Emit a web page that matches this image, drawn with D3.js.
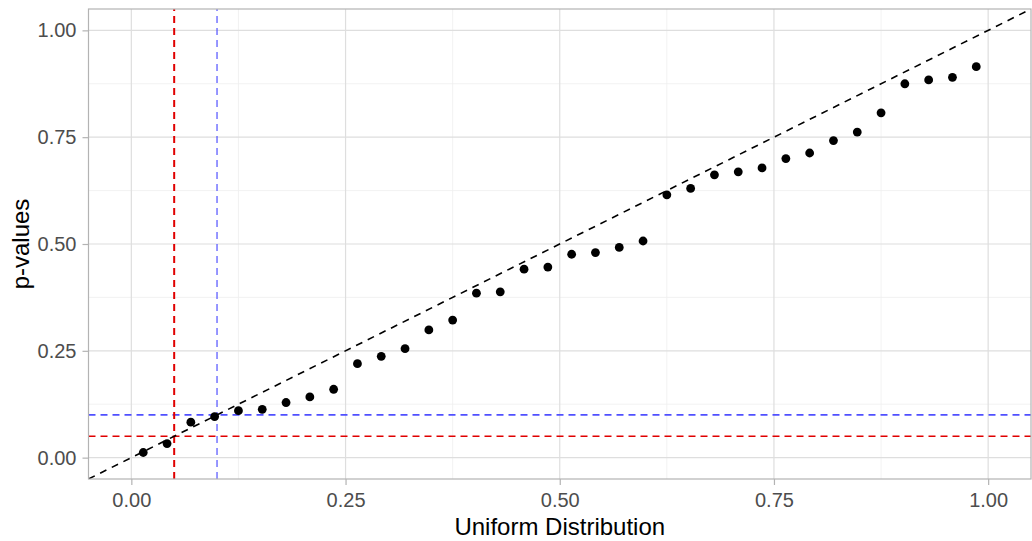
<!DOCTYPE html>
<html>
<head>
<meta charset="utf-8">
<script src="https://cdn.jsdelivr.net/npm/d3@7"></script>
<style>
  body { margin: 0; background: #fff; }
  text { font-family: "Liberation Sans", Arial, sans-serif; }
</style>
</head>
<body>
<svg id="chart" width="1032" height="541"></svg>
<script>
// sorted p-values, plotted against uniform quantiles (i - 0.5) / n
const pValues = [
    0.012, 0.033, 0.083, 0.096, 0.110, 0.113, 0.129, 0.142, 0.160,
    0.220, 0.237, 0.255, 0.299, 0.322, 0.385, 0.388, 0.441, 0.446,
    0.476, 0.480, 0.492, 0.507, 0.615, 0.630, 0.662, 0.669, 0.678,
    0.700, 0.713, 0.742, 0.762, 0.807, 0.875, 0.884, 0.890, 0.915
];
const uniformQuantiles = pValues.map((d, i) => (i + 0.5) / pValues.length);
const tickValues = [0, 0.25, 0.5, 0.75, 1];
const minorTicks = [0.125, 0.375, 0.625, 0.875];
const cutoffs = [
    { value: 0.05, color: "#e00000" },
    { value: 0.1, color: "#5050ff" }
];

const width = 1032, height = 541;
const margin = { top: 9, right: 1, bottom: 62, left: 88.5 };

const svg = d3.select("#chart");

const x = d3.scaleLinear().domain([-0.05, 1.05]).range([margin.left, width - margin.right]);
const y = d3.scaleLinear().domain([-0.05, 1.05]).range([height - margin.bottom, margin.top]);

const fmt = d3.format(".2f");

// grid
const grid = svg.append("g");
grid.selectAll(".minor-x").data(minorTicks).join("line")
    .attr("x1", d => x(d)).attr("x2", d => x(d))
    .attr("y1", y.range()[0]).attr("y2", y.range()[1])
    .attr("stroke", "#efefef").attr("stroke-width", 0.8);
grid.selectAll(".minor-y").data(minorTicks).join("line")
    .attr("y1", d => y(d)).attr("y2", d => y(d))
    .attr("x1", x.range()[0]).attr("x2", x.range()[1])
    .attr("stroke", "#efefef").attr("stroke-width", 0.8);
grid.selectAll(".major-x").data(tickValues).join("line")
    .attr("x1", d => x(d)).attr("x2", d => x(d))
    .attr("y1", y.range()[0]).attr("y2", y.range()[1])
    .attr("stroke", "#dedede").attr("stroke-width", 1.2);
grid.selectAll(".major-y").data(tickValues).join("line")
    .attr("y1", d => y(d)).attr("y2", d => y(d))
    .attr("x1", x.range()[0]).attr("x2", x.range()[1])
    .attr("stroke", "#dedede").attr("stroke-width", 1.2);

// clip for reference lines
svg.append("clipPath").attr("id", "panel-clip")
    .append("rect")
    .attr("x", x.range()[0]).attr("y", y.range()[1])
    .attr("width", x.range()[1] - x.range()[0])
    .attr("height", y.range()[0] - y.range()[1]);

const refs = svg.append("g").attr("clip-path", "url(#panel-clip)");

// horizontal cutoffs
refs.selectAll(".hline").data(cutoffs).join("line")
    .attr("x1", x.range()[0]).attr("x2", x.range()[1])
    .attr("y1", d => y(d.value)).attr("y2", d => y(d.value))
    .attr("stroke", d => d.color).attr("stroke-width", 1.6)
    .attr("stroke-dasharray", "7,5");

// vertical cutoffs
refs.selectAll(".vline").data(cutoffs).join("line")
    .attr("x1", d => x(d.value)).attr("x2", d => x(d.value))
    .attr("y1", y.range()[0]).attr("y2", y.range()[1])
    .attr("stroke", d => d.color)
    .attr("stroke-width", d => d.value === 0.05 ? 2 : 1.2)
    .attr("stroke-dasharray", "7,5");

// identity line
refs.append("line")
    .attr("x1", x(-0.05)).attr("y1", y(-0.05))
    .attr("x2", x(1.05)).attr("y2", y(1.05))
    .attr("stroke", "#000").attr("stroke-width", 1.6)
    .attr("stroke-dasharray", "7,6");

// points
svg.append("g").selectAll("circle").data(pValues).join("circle")
    .attr("cx", (d, i) => x(uniformQuantiles[i]))
    .attr("cy", d => y(d))
    .attr("r", 4.4)
    .attr("fill", "#000");

// panel border
svg.append("rect")
    .attr("x", x.range()[0]).attr("y", y.range()[1])
    .attr("width", x.range()[1] - x.range()[0])
    .attr("height", y.range()[0] - y.range()[1])
    .attr("fill", "none").attr("stroke", "#b3b3b3").attr("stroke-width", 1.2);

// axes
const xAxis = svg.append("g")
    .attr("transform", `translate(0,${y.range()[0]})`)
    .call(d3.axisBottom(x).tickValues(tickValues).tickFormat(fmt).tickSize(6).tickPadding(6));
const yAxis = svg.append("g")
    .attr("transform", `translate(${x.range()[0]},0)`)
    .call(d3.axisLeft(y).tickValues(tickValues).tickFormat(fmt).tickSize(6).tickPadding(6));

[xAxis, yAxis].forEach(g => {
    g.select(".domain").remove();
    g.selectAll(".tick line").attr("stroke", "#b3b3b3").attr("stroke-width", 1.2);
    g.selectAll(".tick text")
        .attr("fill", "#4d4d4d")
        .style("font-size", "20px")
        .style("font-family", "'Liberation Sans', Arial, sans-serif");
});
xAxis.selectAll(".tick text").attr("dy", "0.78em");

// axis titles
svg.append("text")
    .attr("x", (x.range()[0] + x.range()[1]) / 2)
    .attr("y", 535)
    .attr("text-anchor", "middle")
    .attr("fill", "#000")
    .style("font-size", "24px")
    .text("Uniform Distribution");

svg.append("text")
    .attr("transform", `translate(29,${(y.range()[0] + y.range()[1]) / 2}) rotate(-90)`)
    .attr("text-anchor", "middle")
    .attr("fill", "#000")
    .style("font-size", "24px")
    .text("p-values");
</script>
</body>
</html>
